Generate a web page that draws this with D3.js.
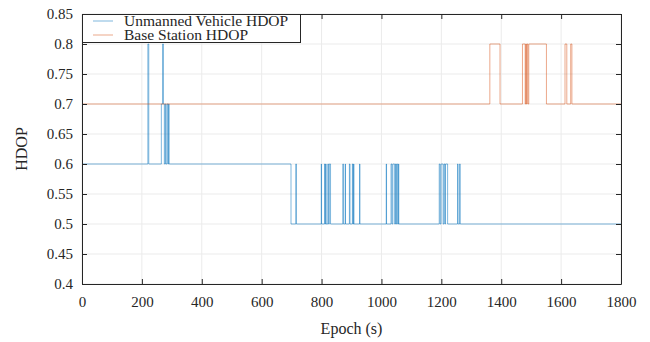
<!DOCTYPE html>
<html>
<head>
<meta charset="utf-8">
<script src="https://cdn.jsdelivr.net/npm/d3@7"></script>
<style>
  body { margin: 0; background: #fff; }
  text { font-family: "Liberation Serif", "Times New Roman", serif; fill: #262626; }
</style>
</head>
<body>
<div id="chart"></div>
<script>
// data: change points of each step series (epoch s, HDOP)
var uvEpochs = [0, 220, 223, 265, 269, 272, 275, 278, 280, 284, 287, 289, 291,
  698, 714, 716, 799, 800, 810, 812, 814, 815, 821, 823, 826, 830,
  871, 873, 879, 880, 893, 895, 903, 905, 907, 908, 927, 928,
  1016, 1017, 1032, 1035, 1038, 1044, 1047, 1049, 1051, 1054, 1057, 1058,
  1193, 1196, 1199, 1206, 1209, 1212, 1214, 1221, 1254, 1256, 1261, 1263, 1800];
var uvHdop = [0.6, 0.8, 0.6, 0.7, 0.8, 0.7, 0.6, 0.7, 0.6, 0.7, 0.6, 0.7, 0.6,
  0.5, 0.6, 0.5, 0.6, 0.5, 0.6, 0.5, 0.6, 0.5, 0.6, 0.5, 0.6, 0.5,
  0.6, 0.5, 0.6, 0.5, 0.6, 0.5, 0.6, 0.5, 0.6, 0.5, 0.6, 0.5,
  0.6, 0.5, 0.6, 0.5, 0.6, 0.5, 0.6, 0.5, 0.6, 0.5, 0.6, 0.5,
  0.6, 0.5, 0.6, 0.5, 0.6, 0.5, 0.6, 0.5, 0.6, 0.5, 0.6, 0.5, 0.5];

var bsEpochs = [0, 1362, 1396, 1471, 1480, 1482, 1484, 1486, 1489, 1492, 1551,
  1613, 1619, 1632, 1636, 1800];
var bsHdop = [0.7, 0.8, 0.7, 0.8, 0.7, 0.8, 0.7, 0.8, 0.7, 0.8, 0.7,
  0.8, 0.7, 0.8, 0.7, 0.7];

var xTicks = [0, 200, 400, 600, 800, 1000, 1200, 1400, 1600, 1800];
var yTicks = [0.4, 0.45, 0.5, 0.55, 0.6, 0.65, 0.7, 0.75, 0.8, 0.85];
var seriesNames = ["Unmanned Vehicle HDOP", "Base Station HDOP"];
var seriesColors = ["#0072BD", "#D95319"];

// svg setup
var svgWidth = 650, svgHeight = 342;
var margin = { top: 14, right: 29, bottom: 58, left: 82 };
var width = svgWidth - margin.left - margin.right;
var height = svgHeight - margin.top - margin.bottom;

var svg = d3.select("#chart").append("svg")
  .attr("width", svgWidth)
  .attr("height", svgHeight);

var g = svg.append("g")
  .attr("transform", `translate(${margin.left}, ${margin.top})`);

var x = d3.scaleLinear().domain([0, 1800]).range([0, width]);
var y = d3.scaleLinear().domain([0.4, 0.85]).range([height, 0]);

// grid
g.append("g").selectAll("line")
  .data(xTicks)
  .enter().append("line")
  .attr("x1", d => x(d)).attr("x2", d => x(d))
  .attr("y1", 0).attr("y2", height)
  .attr("stroke", "#ebebeb");

g.append("g").selectAll("line")
  .data(yTicks)
  .enter().append("line")
  .attr("y1", d => y(d)).attr("y2", d => y(d))
  .attr("x1", 0).attr("x2", width)
  .attr("stroke", "#ebebeb");

// series
g.append("clipPath").attr("id", "clip")
  .append("rect").attr("width", width).attr("height", height);

var line = d3.line()
  .x(d => x(d[0]))
  .y(d => y(d[1]))
  .curve(d3.curveStepAfter);

var series = [d3.zip(uvEpochs, uvHdop), d3.zip(bsEpochs, bsHdop)];

g.append("g").attr("clip-path", "url(#clip)")
  .selectAll("path")
  .data(series)
  .enter().append("path")
  .attr("d", line)
  .attr("fill", "none")
  .attr("stroke", (d, i) => seriesColors[i])
  .attr("stroke-opacity", 0.5)
  .attr("stroke-width", 1);

// axes (box with inward ticks)
function styleAxis(sel) {
  sel.attr("font-family", "Liberation Serif").attr("font-size", 15);
  sel.selectAll("path").attr("stroke", "#262626");
  sel.selectAll("line").attr("stroke", "#262626");
  sel.selectAll("text").attr("fill", "#262626");
}

g.append("g")
  .attr("transform", `translate(0, ${height})`)
  .call(d3.axisBottom(x).tickValues(xTicks).tickSizeInner(-5).tickSizeOuter(0).tickPadding(12)
    .tickFormat(d3.format("d")))
  .call(styleAxis);

g.append("g")
  .call(d3.axisTop(x).tickValues(xTicks).tickSizeInner(-5).tickSizeOuter(0).tickFormat(""))
  .call(styleAxis);

g.append("g")
  .call(d3.axisLeft(y).tickValues(yTicks).tickSizeInner(-5).tickSizeOuter(0).tickPadding(9)
    .tickFormat(d => d3.format("~g")(d)))
  .call(styleAxis);

g.append("g")
  .attr("transform", `translate(${width}, 0)`)
  .call(d3.axisRight(y).tickValues(yTicks).tickSizeInner(-5).tickSizeOuter(0).tickFormat(""))
  .call(styleAxis);

// axis labels
svg.append("text")
  .attr("x", margin.left + width / 2)
  .attr("y", 334)
  .attr("text-anchor", "middle")
  .style("font-size", "16px")
  .text("Epoch (s)");

svg.append("text")
  .attr("transform", `translate(27, ${margin.top + height / 2}) rotate(-90)`)
  .attr("text-anchor", "middle")
  .style("font-size", "16px")
  .text("HDOP");

// legend
var legend = g.append("g");

legend.append("rect")
  .attr("x", 0.5).attr("y", 0.5)
  .attr("width", 218).attr("height", 28)
  .attr("fill", "#fff")
  .attr("stroke", "#262626");

var items = legend.selectAll("g.item")
  .data(seriesNames)
  .enter().append("g")
  .attr("class", "item")
  .attr("transform", (d, i) => `translate(0, ${7 + i * 14})`);

items.append("line")
  .attr("x1", 11).attr("x2", 31)
  .attr("stroke", (d, i) => seriesColors[i])
  .attr("stroke-opacity", 0.5);

items.append("text")
  .attr("x", 42)
  .attr("dy", "0.33em")
  .style("font-size", "15.5px")
  .text(d => d);
</script>
</body>
</html>
